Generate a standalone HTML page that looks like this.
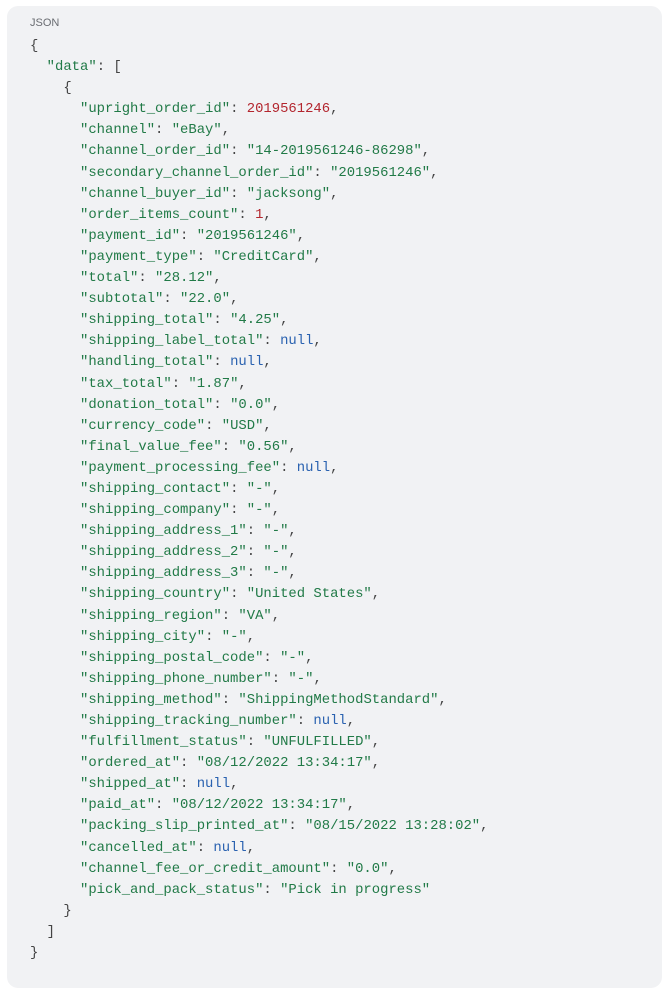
<!DOCTYPE html>
<html><head><meta charset="utf-8"><style>
body{margin:0;background:#fff;width:670px;height:996px;position:relative;overflow:hidden}
.box{position:absolute;left:7px;top:6px;width:655px;height:982px;background:#f1f2f4;border-radius:11px}
.lbl{position:absolute;left:30px;top:17px;font:11px "Liberation Sans",sans-serif;color:#6a6d72}
pre{position:absolute;left:30px;top:36px;margin:0;font:13.9px/21.1px "Liberation Mono",monospace;color:#444}
.k,.s{color:#217a47}.n{color:#b3262e}.u{color:#2a62b0}
</style></head><body>
<div class="box"></div>
<div class="lbl">JSON</div>
<pre>{
  <span class="k">"data"</span>: [
    {
      <span class="k">"upright_order_id"</span>: <span class="n">2019561246</span>,
      <span class="k">"channel"</span>: <span class="s">"eBay"</span>,
      <span class="k">"channel_order_id"</span>: <span class="s">"14-2019561246-86298"</span>,
      <span class="k">"secondary_channel_order_id"</span>: <span class="s">"2019561246"</span>,
      <span class="k">"channel_buyer_id"</span>: <span class="s">"jacksong"</span>,
      <span class="k">"order_items_count"</span>: <span class="n">1</span>,
      <span class="k">"payment_id"</span>: <span class="s">"2019561246"</span>,
      <span class="k">"payment_type"</span>: <span class="s">"CreditCard"</span>,
      <span class="k">"total"</span>: <span class="s">"28.12"</span>,
      <span class="k">"subtotal"</span>: <span class="s">"22.0"</span>,
      <span class="k">"shipping_total"</span>: <span class="s">"4.25"</span>,
      <span class="k">"shipping_label_total"</span>: <span class="u">null</span>,
      <span class="k">"handling_total"</span>: <span class="u">null</span>,
      <span class="k">"tax_total"</span>: <span class="s">"1.87"</span>,
      <span class="k">"donation_total"</span>: <span class="s">"0.0"</span>,
      <span class="k">"currency_code"</span>: <span class="s">"USD"</span>,
      <span class="k">"final_value_fee"</span>: <span class="s">"0.56"</span>,
      <span class="k">"payment_processing_fee"</span>: <span class="u">null</span>,
      <span class="k">"shipping_contact"</span>: <span class="s">"-"</span>,
      <span class="k">"shipping_company"</span>: <span class="s">"-"</span>,
      <span class="k">"shipping_address_1"</span>: <span class="s">"-"</span>,
      <span class="k">"shipping_address_2"</span>: <span class="s">"-"</span>,
      <span class="k">"shipping_address_3"</span>: <span class="s">"-"</span>,
      <span class="k">"shipping_country"</span>: <span class="s">"United States"</span>,
      <span class="k">"shipping_region"</span>: <span class="s">"VA"</span>,
      <span class="k">"shipping_city"</span>: <span class="s">"-"</span>,
      <span class="k">"shipping_postal_code"</span>: <span class="s">"-"</span>,
      <span class="k">"shipping_phone_number"</span>: <span class="s">"-"</span>,
      <span class="k">"shipping_method"</span>: <span class="s">"ShippingMethodStandard"</span>,
      <span class="k">"shipping_tracking_number"</span>: <span class="u">null</span>,
      <span class="k">"fulfillment_status"</span>: <span class="s">"UNFULFILLED"</span>,
      <span class="k">"ordered_at"</span>: <span class="s">"08/12/2022 13:34:17"</span>,
      <span class="k">"shipped_at"</span>: <span class="u">null</span>,
      <span class="k">"paid_at"</span>: <span class="s">"08/12/2022 13:34:17"</span>,
      <span class="k">"packing_slip_printed_at"</span>: <span class="s">"08/15/2022 13:28:02"</span>,
      <span class="k">"cancelled_at"</span>: <span class="u">null</span>,
      <span class="k">"channel_fee_or_credit_amount"</span>: <span class="s">"0.0"</span>,
      <span class="k">"pick_and_pack_status"</span>: <span class="s">"Pick in progress"</span>
    }
  ]
}</pre>
</body></html>
